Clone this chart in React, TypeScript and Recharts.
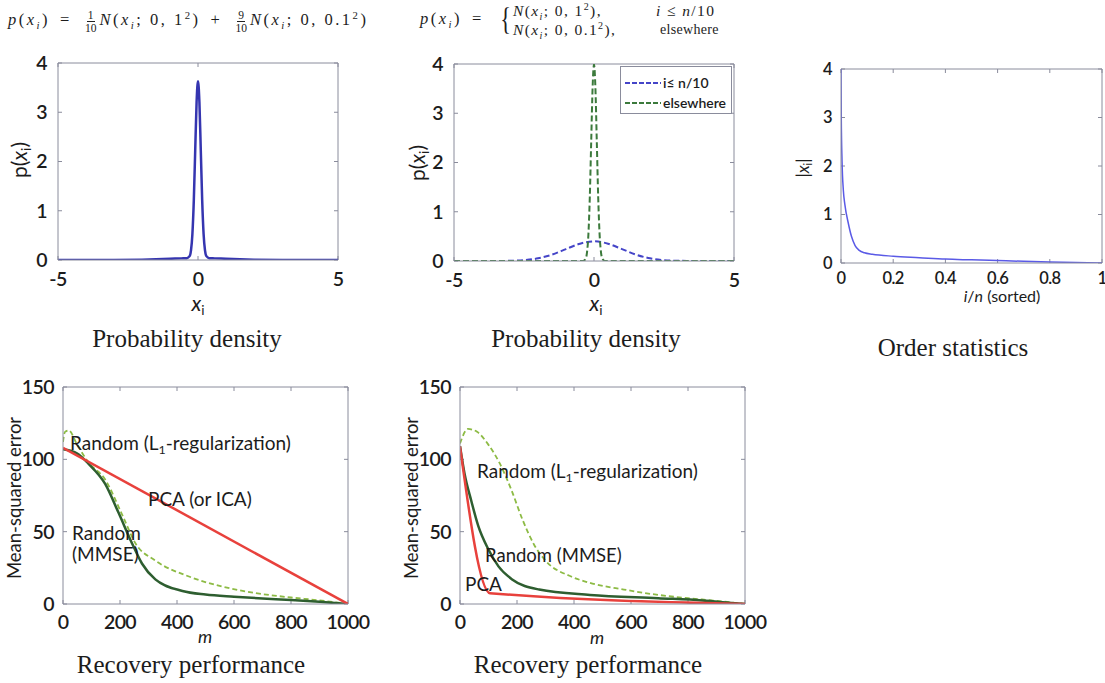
import React from "react";
import { LineChart, Line, XAxis, YAxis, ReferenceLine } from "recharts";

// mixture density p(x) = 0.1 N(0,1) + 0.9 N(0,0.1^2)
const mixX = [-5, -4, -3, -2, -1.5, -1, -0.6, -0.4, -0.3, -0.25, -0.2, -0.15, -0.1, -0.05, 0, 0.05, 0.1, 0.15, 0.2, 0.25, 0.3, 0.4, 0.6, 1, 1.5, 2, 3, 4, 5];
const mixP = [0, 0.0001, 0.0004, 0.0054, 0.013, 0.024, 0.033, 0.037, 0.078, 0.197, 0.525, 1.205, 2.22, 3.21, 3.63, 3.21, 2.22, 1.205, 0.525, 0.197, 0.078, 0.037, 0.033, 0.024, 0.013, 0.0054, 0.0004, 0.0001, 0];

// per-component densities
const wideX = [-5, -4, -3.5, -3, -2.5, -2, -1.5, -1, -0.5, 0, 0.5, 1, 1.5, 2, 2.5, 3, 3.5, 4, 5];
const wideP = [0, 0.0001, 0.0009, 0.0044, 0.0175, 0.054, 0.1295, 0.242, 0.352, 0.399, 0.352, 0.242, 0.1295, 0.054, 0.0175, 0.0044, 0.0009, 0.0001, 0];
const narrowX = [-5, -0.4, -0.3, -0.25, -0.2, -0.15, -0.1, -0.05, 0, 0.05, 0.1, 0.15, 0.2, 0.25, 0.3, 0.4, 5];
const narrowP = [0, 0.001, 0.044, 0.175, 0.54, 1.295, 2.42, 3.52, 3.99, 3.52, 2.42, 1.295, 0.54, 0.175, 0.044, 0.001, 0];

// sorted magnitudes
const rankX = [0, 0.001, 0.004, 0.009, 0.015, 0.028, 0.04, 0.054, 0.07, 0.09, 0.12, 0.2, 0.3, 0.4, 0.5, 0.6, 0.7, 0.8, 0.9, 1];
const absX = [4, 3.0, 2.1, 1.5, 1.2, 0.82, 0.55, 0.36, 0.26, 0.21, 0.18, 0.14, 0.11, 0.08, 0.065, 0.05, 0.035, 0.022, 0.01, 0];

// recovery, mixture prior
const pcaLM = [0, 1000];
const pcaL = [108, 0];
const mmseLM = [0, 50, 89, 148, 195, 242, 277, 324, 419, 500, 600, 700, 800, 900, 1000];
const mmseL = [107, 104, 97, 83, 63, 42, 28, 17, 9, 6.5, 5, 3.8, 2.8, 1.5, 0];
const l1LM = [0, 7, 20, 50, 89, 148, 207, 254, 324, 442, 560, 677, 800, 900, 1000];
const l1L = [112, 119, 120, 110, 98, 86, 62, 42, 30, 19, 12, 7.5, 4.5, 2.5, 0];

// recovery, split prior
const pcaRM = [0, 105, 1000];
const pcaR = [109, 7.5, 0];
const mmseRM = [0, 16, 40, 64, 99, 135, 183, 278, 456, 695, 850, 1000];
const mmseR = [109, 90, 71, 54, 38, 26, 17, 10, 6.3, 4, 2.5, 0];
const l1RM = [0, 28, 60, 100, 140, 180, 220, 260, 300, 390, 456, 575, 695, 800, 900, 1000];
const l1R = [111, 121, 119, 110, 97, 79, 58, 41, 30, 19, 14.6, 10, 6.3, 4, 2.2, 0];

const xTicksPdf = [-5, 0, 5];
const yTicksPdf = [0, 1, 2, 3, 4];
const xTicksRank = [0, 0.2, 0.4, 0.6, 0.8, 1];
const xTicksM = [0, 200, 400, 600, 800, 1000];
const yTicksMse = [0, 50, 100, 150];

const FRAME = "#8a8c9c";
const INK = "#1c1c1c";
const SANS = "Lato, 'Open Sans', sans-serif";
const SERIF = "'Liberation Serif', 'DejaVu Serif', serif";
const RED = "#e8413c";
const DKGREEN = "#2e5e30";
const LTGREEN = "#8dbb45";

type Series = { name: string; xs: number[]; ys: number[]; color: string; width: number; dash?: string };
type Box = { l: number; t: number; r: number; b: number };

function Plot({ box, xDomain, yDomain, xTicks, yTicks, series, fontSize, xGap = 8, yGap = 5 }: {
  box: Box; xDomain: [number, number]; yDomain: [number, number]; xTicks: number[]; yTicks: number[];
  series: Series[]; fontSize: number; xGap?: number; yGap?: number;
}) {
  const yW = 60, xH = 40, mT = 14, mR = 30, tk = 4;
  const w = box.r - box.l, h = box.b - box.t;
  const [x0, x1] = xDomain;
  const [y0, y1] = yDomain;
  // inward tick length, in data units
  const dx = (tk * (x1 - x0)) / w;
  const dy = (tk * (y1 - y0)) / h;
  const tick = { fill: INK, fontSize, fontFamily: SANS, fontWeight: 600, letterSpacing: -0.6 };
  const line = { stroke: FRAME, strokeWidth: 1 };
  const rows = (s: Series) => s.xs.map((x, i) => ({ x, y: s.ys[i] }));
  const seg = (a: { x: number; y: number }, b: { x: number; y: number }, k: string) => (
    <ReferenceLine key={k} segment={[a, b]} stroke={FRAME} strokeWidth={1} ifOverflow="visible" />
  );
  return (
    <div style={{ position: "absolute", left: box.l - yW, top: box.t - mT }}>
      <LineChart width={w + yW + mR} height={h + mT + xH} margin={{ top: mT, right: mR, bottom: 0, left: 0 }}>
        <XAxis type="number" dataKey="x" domain={xDomain} ticks={xTicks} interval={0} allowDataOverflow
          height={xH} tickLine={false} tickMargin={xGap} axisLine={line} tick={tick} />
        <YAxis type="number" domain={yDomain} ticks={yTicks} interval={0} allowDataOverflow
          width={yW} tickLine={false} tickMargin={yGap} axisLine={line} tick={tick} />
        {/* box frame with inward ticks on all four sides */}
        <ReferenceLine y={y1} stroke={FRAME} strokeWidth={1} />
        <ReferenceLine x={x1} stroke={FRAME} strokeWidth={1} />
        {xTicks.map((t) => seg({ x: t, y: y0 }, { x: t, y: y0 + dy }, `b${t}`))}
        {xTicks.map((t) => seg({ x: t, y: y1 }, { x: t, y: y1 - dy }, `t${t}`))}
        {yTicks.map((t) => seg({ x: x0, y: t }, { x: x0 + dx, y: t }, `l${t}`))}
        {yTicks.map((t) => seg({ x: x1, y: t }, { x: x1 - dx, y: t }, `r${t}`))}
        {series.map((s) => (
          <Line key={s.name} name={s.name} type="monotone" data={rows(s)} dataKey="y"
            stroke={s.color} strokeWidth={s.width} strokeDasharray={s.dash} dot={false} isAnimationActive={false} />
        ))}
      </LineChart>
    </div>
  );
}

function Txt({ x, y, children, size = 17, font = SANS, rotate = 0, weight = 400, align = "center" }: {
  x: number; y: number; children: React.ReactNode; size?: number; font?: string; rotate?: number; weight?: number; align?: string;
}) {
  const tx = align === "left" ? "0" : "-50%";
  return (
    <div style={{
      position: "absolute", left: x, top: y, whiteSpace: "nowrap", fontSize: size, fontFamily: font,
      fontWeight: weight, color: INK, lineHeight: 1, transform: `translate(${tx}, -50%) rotate(${rotate}deg)`,
    }}>{children}</div>
  );
}

const I = ({ children }: { children: React.ReactNode }) => <span style={{ fontStyle: "italic" }}>{children}</span>;
const Sub = ({ children }: { children: React.ReactNode }) => <sub style={{ fontSize: "0.65em", verticalAlign: "-0.35em", lineHeight: 0 }}>{children}</sub>;
const Sup = ({ children }: { children: React.ReactNode }) => <sup style={{ fontSize: "0.65em", lineHeight: 0 }}>{children}</sup>;
const Frac = ({ n, d }: { n: string; d: string }) => (
  <span style={{ display: "inline-flex", flexDirection: "column", alignItems: "center", fontSize: "0.7em", verticalAlign: "middle", margin: "0 3px", letterSpacing: 0 }}>
    <span style={{ borderBottom: "1px solid #222", lineHeight: 1.05, padding: "0 1px" }}>{n}</span>
    <span style={{ lineHeight: 1.05 }}>{d}</span>
  </span>
);
const NSym = () => <span style={{ fontStyle: "italic", fontFamily: SERIF }}>N</span>;
const Op = ({ c }: { c: string }) => <span style={{ margin: "0 10px" }}>{c}</span>;

const PX = () => <>p(<I>x</I><Sub>i</Sub>)</>;

export default function App() {
  const p1: Box = { l: 58, t: 63, r: 338, b: 260 };
  const p2: Box = { l: 454, t: 64, r: 734, b: 261 };
  const p3: Box = { l: 841, t: 69, r: 1102, b: 263 };
  const p4: Box = { l: 63, t: 387, r: 348, b: 604 };
  const p5: Box = { l: 460, t: 387, r: 745, b: 604 };

  const legend = [
    { label: <>i≤ n/10</>, color: "#4545c8" },
    { label: <>elsewhere</>, color: "#3c7a3c" },
  ];

  const math = { position: "absolute" as const, fontFamily: SERIF, fontSize: 16.5, color: INK, whiteSpace: "nowrap" as const, letterSpacing: 2.5, lineHeight: 1 };
  const caseRow = { ...math, fontSize: 15.5, letterSpacing: 1.4 };

  return (
    <div style={{ position: "fixed", left: 0, top: 0, width: 1105, height: 683, background: "#fff", overflow: "hidden" }}>
      {/* formulas */}
      <div style={{ ...math, left: 8, top: 9 }}>
        <I>p</I>(<I>x</I><Sub><I>i</I></Sub>)<Op c="=" /><Frac n="1" d="10" /><NSym />(<I>x</I><Sub><I>i</I></Sub>; 0, 1<Sup>2</Sup>)<Op c="+" /><Frac n="9" d="10" /><NSym />(<I>x</I><Sub><I>i</I></Sub>; 0, 0.1<Sup>2</Sup>)
      </div>
      <div style={{ ...math, left: 420, top: 11 }}>
        <I>p</I>(<I>x</I><Sub><I>i</I></Sub>)<Op c="=" />
      </div>
      <div style={{ position: "absolute", left: 498, top: 3, fontFamily: SERIF, fontSize: 32, lineHeight: 1, color: INK, fontWeight: 300, transform: "scaleX(0.7)" }}>{"{"}</div>
      <div style={{ ...caseRow, left: 513, top: 3 }}><NSym />(<I>x</I><Sub><I>i</I></Sub>; 0, 1<Sup>2</Sup>),</div>
      <div style={{ ...caseRow, left: 656, top: 3 }}><I>i</I> ≤ <I>n</I>/10</div>
      <div style={{ ...caseRow, left: 513, top: 22 }}><NSym />(<I>x</I><Sub><I>i</I></Sub>; 0, 0.1<Sup>2</Sup>),</div>
      <div style={{ ...caseRow, left: 660, top: 23, fontSize: 14, letterSpacing: 0.3 }}>elsewhere</div>

      <Plot box={p1} xDomain={[-5, 5]} yDomain={[0, 4]} xTicks={xTicksPdf} yTicks={yTicksPdf} fontSize={19.5} xGap={6}
        series={[{ name: "mixture", xs: mixX, ys: mixP, color: "#3535b0", width: 2.5 }]} />
      <Plot box={p2} xDomain={[-5, 5]} yDomain={[0, 4]} xTicks={xTicksPdf} yTicks={yTicksPdf} fontSize={19.5} xGap={6}
        series={[
          { name: "wide", xs: wideX, ys: wideP, color: "#4545c8", width: 2, dash: "6 3" },
          { name: "narrow", xs: narrowX, ys: narrowP, color: "#3c7a3c", width: 2, dash: "6 3" },
        ]} />
      <Plot box={p3} xDomain={[0, 1]} yDomain={[0, 4]} xTicks={xTicksRank} yTicks={yTicksPdf} fontSize={16.5} xGap={3} yGap={3}
        series={[{ name: "sorted", xs: rankX, ys: absX, color: "#5a5ae6", width: 1.5 }]} />
      <Plot box={p4} xDomain={[0, 1000]} yDomain={[0, 150]} xTicks={xTicksM} yTicks={yTicksMse} fontSize={19.5} xGap={5} yGap={3}
        series={[
          { name: "l1", xs: l1LM, ys: l1L, color: LTGREEN, width: 1.8, dash: "5 3" },
          { name: "mmse", xs: mmseLM, ys: mmseL, color: DKGREEN, width: 2.5 },
          { name: "pca", xs: pcaLM, ys: pcaL, color: RED, width: 2.5 },
        ]} />
      <Plot box={p5} xDomain={[0, 1000]} yDomain={[0, 150]} xTicks={xTicksM} yTicks={yTicksMse} fontSize={19.5} xGap={5} yGap={3}
        series={[
          { name: "l1", xs: l1RM, ys: l1R, color: LTGREEN, width: 1.8, dash: "5 3" },
          { name: "mmse", xs: mmseRM, ys: mmseR, color: DKGREEN, width: 2.5 },
          { name: "pca", xs: pcaRM, ys: pcaR, color: RED, width: 2.5 },
        ]} />

      {/* legend for the split prior */}
      <div style={{ position: "absolute", left: 620, top: 66, width: 110, height: 46, border: `1px solid ${FRAME}`, background: "#fff" }}>
        {legend.map((e, i) => (
          <div key={i} style={{ position: "absolute", left: 4, top: 7 + i * 20, display: "flex", alignItems: "center", fontFamily: SANS, fontWeight: 600, fontSize: 14, color: INK }}>
            <svg width={36} height={6}><line x1={0} y1={3} x2={36} y2={3} stroke={e.color} strokeWidth={2} strokeDasharray="5 2" /></svg>
            <span style={{ marginLeft: 2 }}>{e.label}</span>
          </div>
        ))}
      </div>

      {/* axis titles */}
      <Txt x={18} y={160} size={21} rotate={-90}><PX /></Txt>
      <Txt x={198} y={302} size={21}><I>x</I><Sub>i</Sub></Txt>
      <Txt x={416} y={163} size={21} rotate={-90}><PX /></Txt>
      <Txt x={596} y={302} size={21}><I>x</I><Sub>i</Sub></Txt>
      <Txt x={802} y={168} size={17} rotate={-90}>|<I>x</I><Sub>i</Sub>|</Txt>
      <Txt x={1002} y={296} size={16}><I>i</I>/<I>n</I> (sorted)</Txt>
      <Txt x={14} y={498} size={18.5} rotate={-90}>Mean-squared error</Txt>
      <Txt x={205} y={636} size={18}><I>m</I></Txt>
      <Txt x={411} y={498} size={18.5} rotate={-90}>Mean-squared error</Txt>
      <Txt x={597} y={637} size={18}><I>m</I></Txt>

      {/* curve annotations */}
      <Txt x={70} y={442} size={19} align="left">Random (L<Sub>1</Sub>-regularization)</Txt>
      <Txt x={148} y={498} size={19} align="left">PCA (or ICA)</Txt>
      <Txt x={72} y={532} size={19} align="left">Random</Txt>
      <Txt x={72} y={553} size={19} align="left">(MMSE)</Txt>
      <Txt x={477} y={470} size={19} align="left">Random (L<Sub>1</Sub>-regularization)</Txt>
      <Txt x={485} y={555} size={18.5} align="left">Random (MMSE)</Txt>
      <Txt x={465} y={583} size={19} align="left">PCA</Txt>

      {/* captions */}
      <Txt x={187} y={338} size={25} font={SERIF}>Probability density</Txt>
      <Txt x={586} y={338} size={25} font={SERIF}>Probability density</Txt>
      <Txt x={953} y={347} size={25} font={SERIF}>Order statistics</Txt>
      <Txt x={191} y={664} size={25} font={SERIF}>Recovery performance</Txt>
      <Txt x={588} y={664} size={25} font={SERIF}>Recovery performance</Txt>
    </div>
  );
}
